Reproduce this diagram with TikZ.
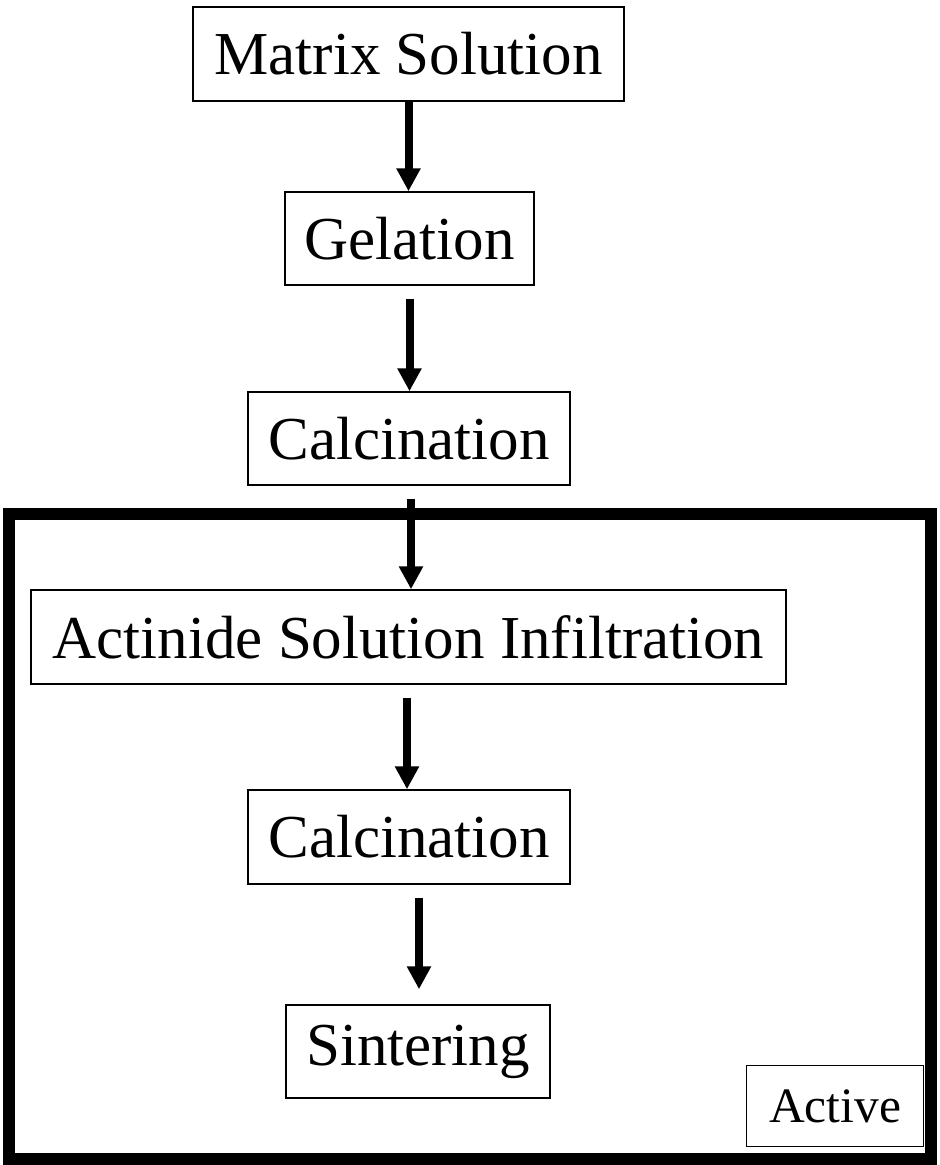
\documentclass[tikz,border=0pt]{standalone}
\usepackage{fontspec}
\setmainfont{Liberation Serif}
\usetikzlibrary{arrows.meta,calc}
\begin{document}
\begin{tikzpicture}[x=1pt,y=-1pt,
  stepbox/.style={draw,line width=1.5pt,inner sep=0pt,font=\fontsize{61}{70}\selectfont,align=center},
  flow/.style={line width=8pt,-{Triangle[length=23pt,width=23pt]}},
  frame/.style={draw,line width=12pt}]
\useasboundingbox (0,0) rectangle (940,1165);
\node[stepbox,minimum width=431pt,minimum height=94pt] (ms) at (408.5,54) {Matrix Solution};
\node[stepbox,minimum width=249pt,minimum height=93pt] (gel) at (409.5,238.5) {Gelation};
\node[stepbox,minimum width=322pt,minimum height=93pt] (calA) at (409,438.5) {Calcination};
\path[frame] (9,514) rectangle (931,1159);
\node[stepbox,minimum width=755pt,minimum height=94pt] (act) at (408.5,637) {Actinide Solution Infiltration};
\node[stepbox,minimum width=322pt,minimum height=94pt] (calB) at (409,837) {Calcination};
\node[stepbox,minimum width=264pt,minimum height=93pt] (sint) at (418,1051.5) {Sintering};
\node[stepbox,minimum width=177pt,minimum height=81pt,font=\fontsize{49.5}{56}\selectfont] (active) at (835,1106) {Active};
\draw[flow] (ms.south) -- (ms.south |- gel.north);
\draw[flow] ($(gel.south)+(0,13)$) -- (gel.south |- calA.north);
\draw[flow] ($(calA.south)+(2,13)$) -- ($(calA.south |- act.north)+(2,0)$);
\draw[flow] ($(act.south)+(-1.5,13)$) -- ($(act.south |- calB.north)+(-1.5,0)$);
\draw[flow] ($(calB.south -| sint.north)+(1,13)$) -- ($(sint.north)+(1,-15)$);
\end{tikzpicture}
\end{document}
